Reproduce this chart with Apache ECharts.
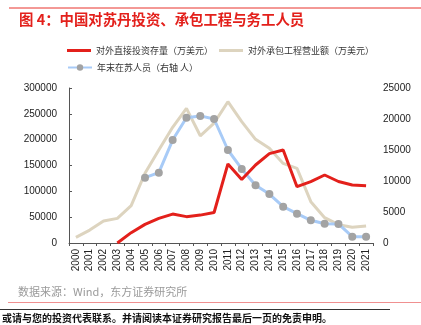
<!DOCTYPE html>
<html>
<head>
<meta charset="utf-8">
<script src="https://cdn.jsdelivr.net/npm/echarts@6/dist/echarts.min.js"></script>
<style>
  html, body { margin: 0; padding: 0; background: #fff; }
  #chart { width: 421px; height: 325px; }
</style>
</head>
<body>
<div id="chart"></div>
<script>
// Years on the category axis
const years = ['2000','2001','2002','2003','2004','2005','2006','2007','2008','2009','2010',
               '2011','2012','2013','2014','2015','2016','2017','2018','2019','2020','2021'];

// FDI stock in Sudan (10k USD), left axis
const fdiStock = [null, null, null, 0, 20000, 36000, 47700, 56000, 51000, 54000, 59000,
                  153000, 123000, 151000, 173000, 180000, 109000, 118700, 131600, 119000, 112300, 111000];

// Contracted project revenue (10k USD), left axis
const contractRevenue = [11000, 25000, 42600, 47700, 72200, 135000, 180000, 224000, 260500, 207500, 232000,
                         273500, 235000, 200700, 183300, 154000, 144500, 80000, 49000, 35500, 30500, 33000];

// Workers in Sudan at year end (persons), right axis
const workers = [null, null, null, null, null, 10530, 11340, 16600, 20200, 20500, 20000,
                 15000, 11940, 9300, 7900, 5860, 4730, 3660, 3100, 3080, 1020, 1020];

const leftTicks = { min: 0, max: 300000, interval: 50000 };
const rightTicks = { min: 0, max: 25000, interval: 5000 };

const names = ['对外直接投资存量（万美元）', '对外承包工程营业额（万美元）', '年末在苏人员（右轴 人）'];

const chart = echarts.init(document.getElementById('chart'), null, { renderer: 'canvas' });

const axisText = { fontFamily: 'Liberation Sans, Arial, sans-serif', fontSize: 10, color: '#222' };
const legendText = { fontFamily: 'Noto Sans CJK SC, sans-serif', fontSize: 9, color: '#333' };
const plain = v => String(v);
// thin bar used as a plain line legend marker
const lineIcon = 'path://M0,0 L24,0 L24,3 L0,3 Z';

chart.setOption({
  animation: false,
  grid: { left: 69, right: 48, top: 88, bottom: 82 },
  legend: [
    {
      left: 67, top: 46, itemWidth: 24, itemHeight: 8, itemGap: 6,
      data: [{ name: names[0], icon: lineIcon }, { name: names[1], icon: lineIcon }],
      textStyle: legendText, padding: 0
    },
    {
      left: 67, top: 63, itemWidth: 24, itemHeight: 8,
      data: [names[2]], textStyle: legendText, padding: 0
    }
  ],
  xAxis: {
    type: 'category',
    data: years,
    boundaryGap: true,
    axisLine: { lineStyle: { color: '#555', width: 1 } },
    axisTick: { show: true, length: 3, lineStyle: { color: '#555' } },
    axisLabel: Object.assign({ rotate: 90, margin: 6, interval: 0 }, axisText)
  },
  yAxis: [
    {
      type: 'value',
      min: leftTicks.min, max: leftTicks.max, interval: leftTicks.interval,
      axisLine: { show: true, lineStyle: { color: '#555', width: 1 } },
      axisTick: { show: true, inside: true, length: 3, lineStyle: { color: '#555' } },
      splitLine: { show: false },
      axisLabel: Object.assign({ margin: 12, formatter: plain }, axisText)
    },
    {
      type: 'value',
      min: rightTicks.min, max: rightTicks.max, interval: rightTicks.interval,
      axisLine: { show: false },
      axisTick: { show: false },
      splitLine: { show: false },
      axisLabel: Object.assign({ margin: 10, formatter: plain }, axisText)
    }
  ],
  series: [
    {
      name: names[1], type: 'line', data: contractRevenue, yAxisIndex: 0,
      symbol: 'none', z: 2,
      lineStyle: { color: '#ddd4bf', width: 3 }, itemStyle: { color: '#ddd4bf' }
    },
    {
      name: names[0], type: 'line', data: fdiStock, yAxisIndex: 0,
      symbol: 'none', z: 4,
      lineStyle: { color: '#e3201b', width: 3 }, itemStyle: { color: '#e3201b' }
    },
    {
      name: names[2], type: 'line', data: workers, yAxisIndex: 1,
      symbol: 'circle', symbolSize: 8, showSymbol: true, z: 3,
      lineStyle: { color: '#a8cbf7', width: 3 },
      itemStyle: { color: '#a3a3a3', borderWidth: 0 }
    }
  ],
  graphic: [
    { type: 'line', shape: { x1: 9, y1: 8, x2: 421, y2: 8 }, style: { stroke: '#e8322c', lineWidth: 1 } },
    {
      type: 'text', left: 19, top: 12,
      style: { text: '图 4：中国对苏丹投资、承包工程与务工人员', fill: '#e3201b',
               font: 'bold 14.4px "Noto Sans CJK SC", sans-serif' }
    },
    {
      type: 'text', left: 18, top: 286,
      style: { text: '数据来源：Wind，东方证券研究所', fill: '#9a9a9a',
               font: '11px "Noto Sans CJK SC", sans-serif' }
    },
    { type: 'line', shape: { x1: 8, y1: 302.5, x2: 421, y2: 302.5 }, style: { stroke: '#f09090', lineWidth: 1 } },
    { type: 'line', shape: { x1: 0, y1: 309.5, x2: 390, y2: 309.5 }, style: { stroke: '#333', lineWidth: 1 } },
    {
      type: 'text', left: 2, top: 313,
      style: { text: '或请与您的投资代表联系。并请阅读本证券研究报告最后一页的免责申明。', fill: '#111',
               font: 'bold 10px "Noto Sans CJK SC", sans-serif' }
    }
  ]
});
</script>
</body>
</html>
